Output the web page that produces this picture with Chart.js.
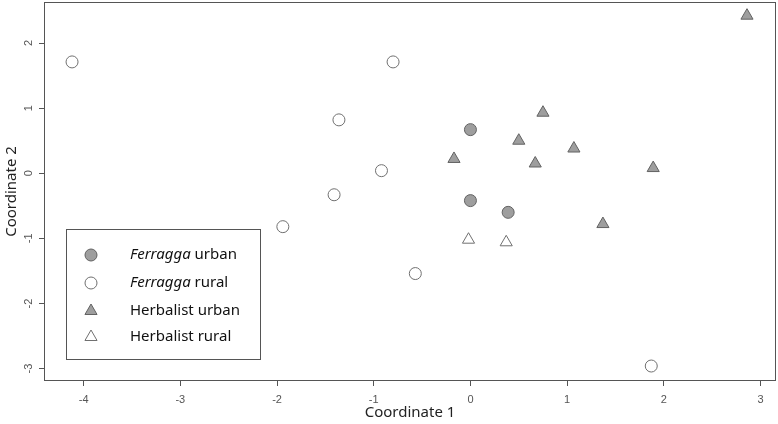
<!DOCTYPE html>
<html>
<head>
<meta charset="utf-8">
<script src="https://cdn.jsdelivr.net/npm/chart.js@4/dist/chart.umd.min.js"></script>
<style>
html, body { margin: 0; padding: 0; background: #fff; }
#wrap { position: relative; width: 778px; height: 424px; }
</style>
</head>
<body>
<div id="wrap"><canvas id="mdsChart"></canvas></div>
<script>
// MDS coordinates
const ferraggaUrbanX = [0.00, 0.00, 0.39];
const ferraggaUrbanY = [0.67, -0.42, -0.60];
const ferraggaRuralX = [-4.12, -0.80, -1.36, -0.92, -1.41, -1.94, -0.57, 1.87];
const ferraggaRuralY = [1.71, 1.71, 0.82, 0.04, -0.33, -0.82, -1.54, -2.96];
const herbalistUrbanX = [2.86, 0.75, 0.50, 1.07, -0.17, 0.67, 1.89, 1.37];
const herbalistUrbanY = [2.42, 0.93, 0.50, 0.38, 0.22, 0.15, 0.08, -0.78];
const herbalistRuralX = [-0.02, 0.37];
const herbalistRuralY = [-1.02, -1.06];

const xTicks = [-4, -3, -2, -1, 0, 1, 2, 3];
const yTicks = [-3, -2, -1, 0, 1, 2];

const groupNames = [
    ['Ferragga', ' urban'],
    ['Ferragga', ' rural'],
    ['', 'Herbalist urban'],
    ['', 'Herbalist rural']
];

function toPoints(xs, ys) {
    return xs.map((x, i) => ({ x: x, y: ys[i] }));
}

const FILL = '#9e9e9e';
const EDGE = '#626262';
const OPEN_EDGE = '#707070';

function markerStyle(shape, filled) {
    return {
        pointStyle: shape,
        pointRadius: shape === 'triangle' ? 7 : 6,
        pointHoverRadius: shape === 'triangle' ? 7 : 6,
        pointBackgroundColor: filled ? FILL : '#ffffff',
        pointBorderColor: filled ? EDGE : OPEN_EDGE,
        pointBorderWidth: 1,
        backgroundColor: filled ? FILL : '#ffffff',
        borderColor: filled ? EDGE : OPEN_EDGE
    };
}

const datasets = [
    Object.assign({ label: 'Ferragga urban', data: toPoints(ferraggaUrbanX, ferraggaUrbanY) }, markerStyle('circle', true)),
    Object.assign({ label: 'Ferragga rural', data: toPoints(ferraggaRuralX, ferraggaRuralY) }, markerStyle('circle', false)),
    Object.assign({ label: 'Herbalist urban', data: toPoints(herbalistUrbanX, herbalistUrbanY) }, markerStyle('triangle', true)),
    Object.assign({ label: 'Herbalist rural', data: toPoints(herbalistRuralX, herbalistRuralY) }, markerStyle('triangle', false))
];

// box around the plot area
const framePlugin = {
    id: 'frame',
    afterDraw(chart) {
        const a = chart.chartArea;
        const ctx = chart.ctx;
        ctx.save();
        ctx.strokeStyle = '#555';
        ctx.lineWidth = 1;
        ctx.strokeRect(Math.round(a.left) + 0.5, Math.round(a.top) + 0.5,
            Math.round(a.right - a.left) - 1, Math.round(a.bottom - a.top) - 1);
        ctx.restore();
    }
};

// legend box inside the plot, with italic genus name
const insetLegend = {
    id: 'insetLegend',
    afterDraw(chart) {
        const a = chart.chartArea;
        const ctx = chart.ctx;
        const left = a.left + 22, top = a.top + 227, w = 194, h = 130;
        ctx.save();
        ctx.fillStyle = '#fff';
        ctx.fillRect(left, top, w, h);
        ctx.strokeStyle = '#555';
        ctx.lineWidth = 1;
        ctx.strokeRect(left + 0.5, top + 0.5, w, h);
        const rowY = [26, 54, 82, 108];
        chart.data.datasets.forEach((ds, i) => {
            const cy = top + rowY[i];
            const cx = left + 25;
            ctx.fillStyle = ds.pointBackgroundColor;
            ctx.strokeStyle = ds.pointBorderColor;
            ctx.lineWidth = 1;
            Chart.helpers.drawPoint(ctx, {
                pointStyle: ds.pointStyle,
                radius: ds.pointRadius,
                borderWidth: 1,
                rotation: 0
            }, cx, cy);
            let tx = left + 64;
            ctx.fillStyle = '#111';
            ctx.textBaseline = 'middle';
            ctx.textAlign = 'left';
            const [ital, rest] = groupNames[i];
            if (ital) {
                ctx.font = 'italic 15px "Noto Sans"';
                ctx.fillText(ital, tx, cy);
                tx += ctx.measureText(ital).width;
            }
            ctx.font = '15px "Noto Sans"';
            ctx.fillText(rest, tx, cy);
        });
        ctx.restore();
    }
};

const tickFont = { family: '"Liberation Sans", Arial', size: 11 };
const titleFont = { family: '"Noto Sans"', size: 15 };

new Chart(document.getElementById('mdsChart'), {
    type: 'scatter',
    data: { datasets: datasets },
    options: {
        responsive: true,
        maintainAspectRatio: false,
        animation: false,
        layout: { autoPadding: false, padding: { top: 2, right: 2, left: 0, bottom: 0 } },
        plugins: {
            legend: { display: false },
            tooltip: { enabled: false }
        },
        scales: {
            x: {
                type: 'linear',
                min: -4.41,
                max: 3.16,
                afterBuildTicks: s => { s.ticks = xTicks.map(v => ({ value: v })); },
                afterFit: s => { s.height = 43; s.paddingLeft = 0; s.paddingRight = 0; },
                ticks: { color: '#555', font: tickFont, padding: 7, maxRotation: 0 },
                grid: { display: true, drawOnChartArea: false, drawTicks: true, tickLength: 5, color: '#555' },
                border: { display: false },
                title: { display: true, text: 'Coordinate 1', color: '#222', font: titleFont, padding: { top: 0, bottom: 2 } }
            },
            y: {
                type: 'linear',
                min: -3.19,
                max: 2.63,
                afterBuildTicks: s => { s.ticks = yTicks.map(v => ({ value: v })); },
                afterFit: s => { s.width = 44; s.paddingTop = 0; s.paddingBottom = 0; },
                ticks: { color: '#555', font: tickFont, padding: 5, minRotation: 90, maxRotation: 90, crossAlign: 'center' },
                grid: { display: true, drawOnChartArea: false, drawTicks: true, tickLength: 5, color: '#555' },
                border: { display: false },
                title: { display: true, text: 'Coordinate 2', color: '#222', font: titleFont, padding: { top: 3, bottom: 0 } }
            }
        }
    },
    plugins: [framePlugin, insetLegend]
});
</script>
</body>
</html>
